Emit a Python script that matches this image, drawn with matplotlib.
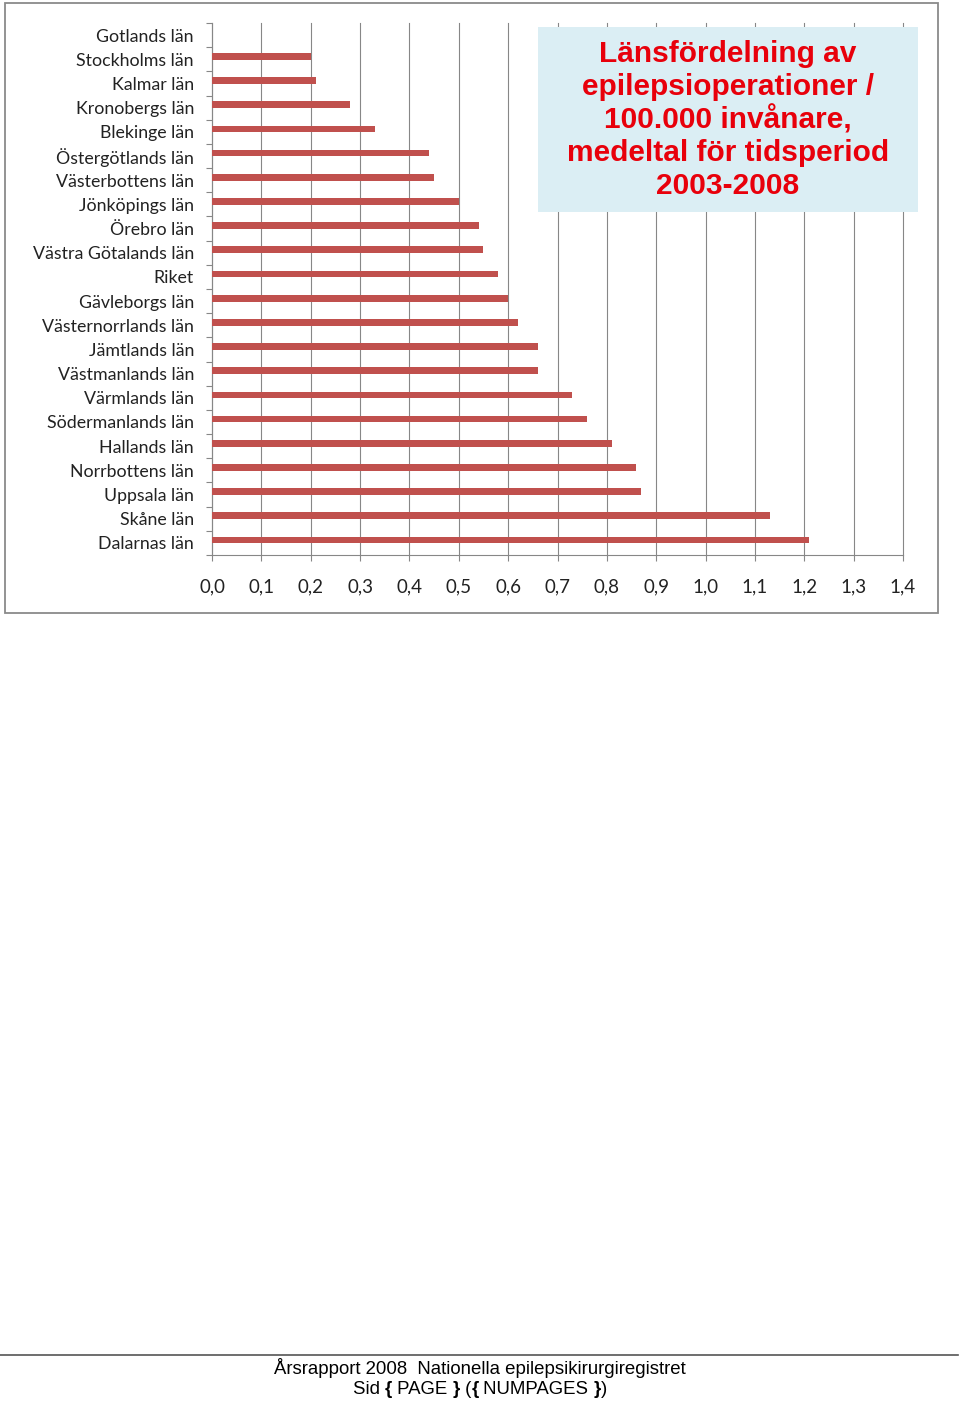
import numpy as np
import matplotlib
matplotlib.use("Agg")
import matplotlib.pyplot as plt
from matplotlib.patches import Rectangle
from matplotlib.lines import Line2D
from matplotlib.text import Annotation

# county names, top to bottom as in the chart
counties = ["Gotlands län", "Stockholms län", "Kalmar län", "Kronobergs län",
            "Blekinge län", "Östergötlands län", "Västerbottens län",
            "Jönköpings län", "Örebro län", "Västra Götalands län", "Riket",
            "Gävleborgs län", "Västernorrlands län", "Jämtlands län",
            "Västmanlands län", "Värmlands län", "Södermanlands län",
            "Hallands län", "Norrbottens län", "Uppsala län", "Skåne län",
            "Dalarnas län"]
# operations / 100.000 inhabitants, mean 2003-2008
rates = [0.0, 0.20, 0.21, 0.28, 0.33, 0.44, 0.45, 0.50, 0.54, 0.55, 0.58,
         0.60, 0.62, 0.66, 0.66, 0.73, 0.76, 0.81, 0.86, 0.87, 1.13, 1.21]
x_ticks = np.round(np.arange(0, 1.41, 0.1), 1)

title_text = ("Länsfördelning av\nepilepsioperationer /\n100.000 invånare,\n"
              "medeltal för tidsperiod\n2003-2008")

W, H = 960, 1401
fig = plt.figure(figsize=(W / 100, H / 100), dpi=100)


def px(x, y):
    # pixel coords (top-left origin) -> figure fraction
    return x / W, 1 - y / H


grey = "#878787"
bar_red = "#c0504d"

# chart area frame
x0, y0 = px(5, 613)
fig.add_artist(Rectangle((x0, y0), 933 / W, 610 / H, transform=fig.transFigure,
                         fill=False, edgecolor="#8a8a8a", linewidth=1.3))

# plot area
l, b = px(212, 555)
ax = fig.add_axes([l, b, 691 / W, 532 / H])
ypos = np.arange(len(counties))
ax.barh(ypos - 0.12, rates, height=0.28, color=bar_red, zorder=3)

ax.set_xlim(0, 1.4)
ax.set_ylim(len(counties) - 0.5, -0.5)
ax.set_xticks(x_ticks)
ax.set_xticklabels([f"{t:.1f}".replace(".", ",") for t in x_ticks])
ax.set_yticks(ypos)
ax.set_yticklabels(counties)
ax.set_yticks(np.arange(len(counties) + 1) - 0.5, minor=True)

ax.grid(axis="x", color=grey, linewidth=0.8, zorder=0)
ax.set_axisbelow(True)
for gl in ax.get_xgridlines():
    gl.set_clip_on(False)
for s in ["top", "right"]:
    ax.spines[s].set_visible(False)
for s in ["left", "bottom"]:
    ax.spines[s].set_color(grey)
    ax.spines[s].set_linewidth(0.8)

ax.tick_params(axis="y", which="major", length=0, pad=13)
ax.tick_params(axis="y", which="minor", length=4, color=grey, width=0.8)
ax.tick_params(axis="x", length=4, color=grey, width=0.8, pad=13)
for lab in ax.get_yticklabels():
    lab.set_fontfamily("Lato")
    lab.set_fontsize(12.8)
    lab.set_color("#222222")
for lab in ax.get_xticklabels():
    lab.set_fontfamily("Lato")
    lab.set_fontsize(13.5)
    lab.set_color("#222222")

# title box
bx, by = px(538, 212)
fig.add_artist(Rectangle((bx, by), 380 / W, 185 / H, transform=fig.transFigure,
                         facecolor="#dbeef4", edgecolor="none", zorder=5))
tx, ty = px(728, 120)
fig.text(tx, ty, title_text, ha="center", va="center", color="#e8000b",
         fontsize=21.5, fontweight="bold", family="Liberation Sans",
         linespacing=1.2, zorder=6)

# footer
fy = 1 - 1355 / H
fig.add_artist(Line2D([0, 958 / W], [fy, fy], transform=fig.transFigure,
                      color="#555555", linewidth=1.2))
fx, fy1 = px(480, 1368)
fig.text(fx, fy1, "Årsrapport 2008  Nationella epilepsikirurgiregistret",
         ha="center", va="center", fontsize=13.4, family="Liberation Sans")

# second footer line with bold braces, pieces chained left to right
pieces = [("Sid ", "normal"), ("{", "bold"), (" PAGE ", "normal"), ("}", "bold"),
          (" (", "normal"), ("{", "bold"), (" NUMPAGES ", "normal"),
          ("}", "bold"), (")", "normal")]
_, fy2 = px(350, 1389)
first = fig.text(350 / W, fy2, pieces[0][0], ha="left", va="center",
                 fontsize=13.4, family="Liberation Sans")
prev = first
texts = [first]
for s, w in pieces[1:]:
    prev = fig.add_artist(Annotation(
        s, xy=(1, 0.5), xycoords=prev, va="center", ha="left",
        fontsize=13.4, family="Liberation Sans", fontweight=w))
    texts.append(prev)

fig.canvas.draw()
r = fig.canvas.get_renderer()
left = texts[0].get_window_extent(r).x0
right = texts[-1].get_window_extent(r).x1
shift = (W / 2 - (left + right) / 2) / W
first.set_x(first.get_position()[0] + shift)

fig.savefig("out.png", dpi=100)
